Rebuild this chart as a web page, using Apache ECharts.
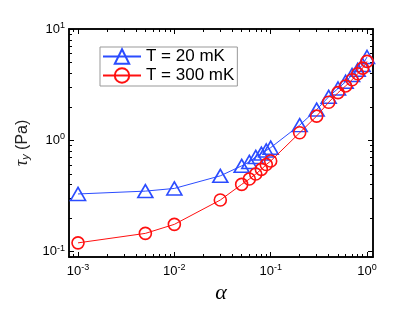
<!DOCTYPE html>
<html><head><meta charset="utf-8">
<script src="https://cdn.jsdelivr.net/npm/echarts@6/dist/echarts.min.js"></script>
<style>html,body{margin:0;padding:0;background:#fff}#c{width:415px;height:312px}</style>
</head><body><div id="c"></div>
<script>
// Data
var alpha = [0.001, 0.005, 0.01, 0.03, 0.05, 0.06, 0.07, 0.08, 0.09, 0.1, 0.2, 0.3, 0.4, 0.5, 0.6, 0.7, 0.8, 0.9, 1.0];
var tau20 = [0.33, 0.35, 0.37, 0.48, 0.59, 0.64, 0.71, 0.76, 0.81, 0.86, 1.37, 1.89, 2.46, 2.92, 3.36, 3.86, 4.3, 4.75, 5.6];
var tau300 = [0.12, 0.146, 0.176, 0.291, 0.402, 0.449, 0.498, 0.549, 0.606, 0.652, 1.17, 1.65, 2.2, 2.68, 3.08, 3.5, 3.96, 4.45, 5.12];
var seriesNames = ['T = 20 mK', 'T = 300 mK'];
var xMajor = [0.001, 0.01, 0.1, 1];
var yMajor = [0.1, 1, 10];
var xMinor = [0.0009, 0.002, 0.003, 0.004, 0.005, 0.006, 0.007, 0.008, 0.009, 0.02, 0.03, 0.04, 0.05, 0.06, 0.07, 0.08, 0.09, 0.2, 0.3, 0.4, 0.5, 0.6, 0.7, 0.8, 0.9];
var yMinor = [0.09, 0.2, 0.3, 0.4, 0.5, 0.6, 0.7, 0.8, 0.9, 2, 3, 4, 5, 6, 7, 8, 9];

var XMIN = 0.000806, XMAX = 1.154, YMIN = 0.0896, YMAX = 10;
var BLUE = '#2b4cff', RED = '#ff1010';
var FONT = 'Liberation Sans';

function powFmt(v) {
  var e = Math.round(Math.log10(v));
  return '{b|10}{s|' + e + '}';
}
var richLab = {
  b: {fontSize: 13, fontFamily: FONT, color: '#000'},
  s: {fontSize: 9, fontFamily: FONT, color: '#000', padding: [0, 0, 7, 0]}
};

function xAxisDef(pos, major, labels) {
  return {
    type: 'log', logBase: 10, min: XMIN, max: XMAX, position: pos,
    axisLine: {show: true, onZero: false, lineStyle: {color: '#000', width: 1.5}},
    axisTick: {show: true, inside: true, length: major ? 5 : 3, customValues: major ? xMajor : xMinor, lineStyle: {color: '#000', width: 1}},
    axisLabel: labels ? {show: true, customValues: xMajor, formatter: powFmt, rich: richLab, margin: 6} : {show: false},
    splitLine: {show: false}, minorTick: {show: false},
    name: labels ? 'α' : '', nameLocation: 'middle', nameGap: 21,
    nameTextStyle: {fontFamily: 'Liberation Serif', fontStyle: 'italic', fontSize: 22, color: '#000'}
  };
}
function yAxisDef(pos, major, labels) {
  return {
    type: 'log', logBase: 10, min: YMIN, max: YMAX, position: pos,
    axisLine: {show: true, onZero: false, lineStyle: {color: '#000', width: 1.5}},
    axisTick: {show: true, inside: true, length: major ? 5 : 3, customValues: major ? yMajor : yMinor, lineStyle: {color: '#000', width: 1}},
    axisLabel: labels ? {show: true, customValues: yMajor, formatter: powFmt, rich: richLab, margin: 4} : {show: false},
    splitLine: {show: false}, minorTick: {show: false},
    name: labels ? '{t|τ}{sub|y}{p| (Pa)}' : '', nameLocation: 'middle', nameGap: 36,
    nameTextStyle: {
      rich: {
        t: {fontFamily: 'Liberation Serif', fontStyle: 'italic', fontSize: 18, color: '#222'},
        sub: {fontFamily: 'Liberation Sans', fontStyle: 'italic', fontSize: 11, color: '#222', padding: [8, 0, 0, 0]},
        p: {fontFamily: FONT, fontSize: 16, color: '#222'}
      }
    }
  };
}

function pairs(xs, ys) { return xs.map(function (x, i) { return [x, ys[i]]; }); }

var chart = echarts.init(document.getElementById('c'), null, {renderer: 'canvas'});
chart.setOption({
  animation: false,
  backgroundColor: '#fff',
  grid: {left: 69, right: 42, top: 29, bottom: 55, containLabel: false},
  xAxis: [xAxisDef('bottom', true, true), xAxisDef('bottom', false, false), xAxisDef('top', true, false), xAxisDef('top', false, false)],
  yAxis: [yAxisDef('left', true, true), yAxisDef('left', false, false), yAxisDef('right', true, false), yAxisDef('right', false, false)],
  legend: {
    show: true, orient: 'vertical', left: 100, top: 47,
    data: seriesNames,
    itemWidth: 38, itemHeight: 18, itemGap: 2,
    padding: [1, 3, 2, 2],
    borderColor: '#999', borderWidth: 1, backgroundColor: '#fff',
    textStyle: {fontFamily: FONT, fontSize: 17, color: '#000'},
    selectedMode: false
  },
  series: [
    {
      name: seriesNames[0], type: 'line', data: pairs(alpha, tau20),
      symbol: 'triangle', symbolSize: [15, 13],
      lineStyle: {color: BLUE, width: 1},
      itemStyle: {color: 'rgba(255,255,255,0)', borderColor: BLUE, borderWidth: 1.6},
      z: 2
    },
    {
      name: seriesNames[1], type: 'line', data: pairs(alpha, tau300),
      symbol: 'circle', symbolSize: 12,
      lineStyle: {color: RED, width: 1},
      itemStyle: {color: 'rgba(255,255,255,0)', borderColor: RED, borderWidth: 1.6},
      z: 3
    }
  ]
});
</script>
</body></html>
